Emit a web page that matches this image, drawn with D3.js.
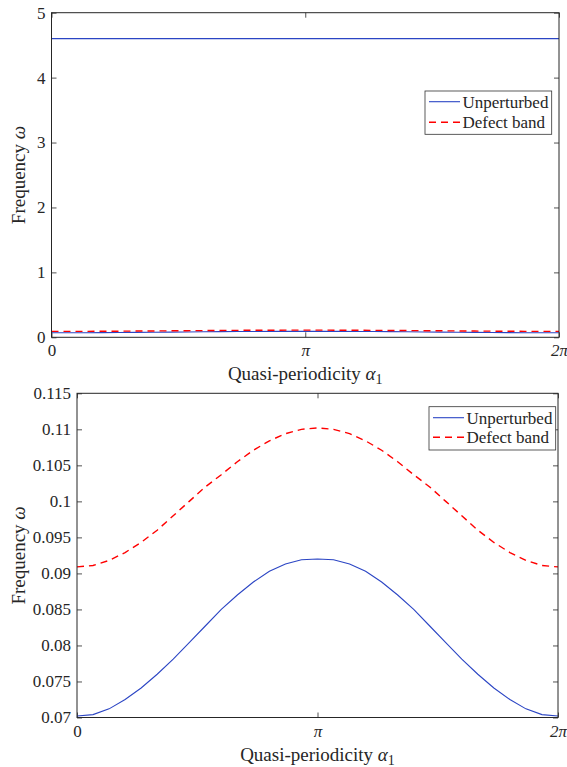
<!DOCTYPE html>
<html>
<head>
<meta charset="utf-8">
<script src="https://cdn.jsdelivr.net/npm/d3@7"></script>
<style>
  body { margin: 0; background: #fff; }
  svg { display: block; }
</style>
</head>
<body>
<svg id="chart" width="567" height="767"></svg>
<script>
// sampled quasi-periodicity (31 samples over one period)
var nSamples = 31;
var alpha = d3.range(nSamples).map(k => k * 2 * Math.PI / (nSamples - 1));

// lower unperturbed band
var unperturbedLow = [0.0702, 0.0704, 0.0712, 0.0725, 0.0741, 0.0760, 0.0781, 0.0804, 0.0827, 0.0850,
  0.0870, 0.0888, 0.0903, 0.0913, 0.0919, 0.0920, 0.0919, 0.0913, 0.0903, 0.0888,
  0.0870, 0.0850, 0.0827, 0.0804, 0.0781, 0.0760, 0.0741, 0.0725, 0.0712, 0.0704, 0.0702];
// upper unperturbed band (flat)
var unperturbedHigh = [4.6, 4.6, 4.6, 4.6, 4.6, 4.6, 4.6, 4.6, 4.6, 4.6,
  4.6, 4.6, 4.6, 4.6, 4.6, 4.6, 4.6, 4.6, 4.6, 4.6,
  4.6, 4.6, 4.6, 4.6, 4.6, 4.6, 4.6, 4.6, 4.6, 4.6, 4.6];
// defect band
var defectBand = [0.0909, 0.0911, 0.0918, 0.0929, 0.0943, 0.0960, 0.0980, 0.1000, 0.1020, 0.1037,
  0.1055, 0.1071, 0.1084, 0.1094, 0.1100, 0.1102, 0.1100, 0.1094, 0.1084, 0.1071,
  0.1055, 0.1037, 0.1020, 0.1000, 0.0980, 0.0960, 0.0943, 0.0929, 0.0918, 0.0911, 0.0909];

var xTicks = [0, Math.PI, 2 * Math.PI];
var xTickLabels = ['0', 'π', '2π'];
var yTicksTop = [0, 1, 2, 3, 4, 5];
var yTicksBottom = [0.07, 0.075, 0.08, 0.085, 0.09, 0.095, 0.1, 0.105, 0.11, 0.115];
var legendLabels = ['Unperturbed', 'Defect band'];

var blue = '#2b45c4', red = '#ff0000', axisColor = '#262626';
var dash = '7,5';
var serif = "'Liberation Serif', 'DejaVu Serif', serif";
var svg = d3.select('#chart');

// set font on every text, axis groups would otherwise force sans-serif
var txt = (sel, size) => sel.attr('font-family', serif).style('font-family', serif)
  .style('font-size', size + 'px').attr('fill', axisColor);

/**
 * draws one boxed panel with both bands
 */
var panel = function (cfg) {
  var x = d3.scaleLinear().domain([0, 2 * Math.PI]).range([cfg.left, cfg.right]);
  var y = d3.scaleLinear().domain(cfg.yDomain).range([cfg.bottom, cfg.top]);
  var g = svg.append('g');

  var fmtX = (d, i) => xTickLabels[i];

  var styleAxis = sel => {
    sel.attr('font-family', serif);
    sel.select('.domain').remove();
    sel.selectAll('line').attr('stroke', axisColor).attr('stroke-width', 0.8);
    sel.selectAll('text').call(txt, 17);
  };

  g.append('g').attr('transform', 'translate(0,' + cfg.bottom + ')')
    .call(d3.axisBottom(x).tickValues(xTicks).tickFormat(fmtX).tickSize(-5).tickPadding(7))
    .call(styleAxis)
    .selectAll('text').style('font-style', (d, i) => i > 0 ? 'italic' : null);
  g.append('g').attr('transform', 'translate(0,' + cfg.top + ')')
    .call(d3.axisTop(x).tickValues(xTicks).tickFormat('').tickSize(-5))
    .call(styleAxis);
  g.append('g').attr('transform', 'translate(' + cfg.left + ',0)')
    .call(d3.axisLeft(y).tickValues(cfg.yTicks).tickFormat(d3.format('')).tickSize(-5).tickPadding(6))
    .call(styleAxis);
  g.append('g').attr('transform', 'translate(' + cfg.right + ',0)')
    .call(d3.axisRight(y).tickValues(cfg.yTicks).tickFormat('').tickSize(-5))
    .call(styleAxis);

  var line = d3.line().x((d, i) => x(alpha[i])).y(d => y(d));

  cfg.blueSeries.forEach(s => {
    g.append('path').datum(s).attr('d', line)
      .attr('fill', 'none').attr('stroke', blue).attr('stroke-width', 1.1);
  });
  g.append('path').datum(defectBand).attr('d', line)
    .attr('fill', 'none').attr('stroke', red).attr('stroke-width', 1.4)
    .attr('stroke-dasharray', dash);

  // box
  g.append('rect')
    .attr('x', cfg.left).attr('y', cfg.top)
    .attr('width', cfg.right - cfg.left).attr('height', cfg.bottom - cfg.top)
    .attr('fill', 'none').attr('stroke', axisColor).attr('stroke-width', 1);

  // axis labels
  var xl = g.append('text')
    .attr('x', (cfg.left + cfg.right) / 2).attr('y', cfg.bottom + 43)
    .attr('text-anchor', 'middle').call(txt, 19);
  xl.append('tspan').text('Quasi-periodicity ');
  xl.append('tspan').text('α').style('font-style', 'italic');
  xl.append('tspan').text('1').attr('dy', 4).style('font-size', '14px');

  var yl = g.append('text')
    .attr('transform', 'translate(' + cfg.yLabelX + ',' + (cfg.top + cfg.bottom) / 2 + ') rotate(-90)')
    .attr('text-anchor', 'middle').call(txt, 19);
  yl.append('tspan').text('Frequency ');
  yl.append('tspan').text('ω').style('font-style', 'italic');

  // legend
  var lg = g.append('g').attr('transform', 'translate(' + cfg.legend[0] + ',' + cfg.legend[1] + ')');
  lg.append('rect').attr('width', cfg.legend[2]).attr('height', cfg.legend[3])
    .attr('fill', '#fff').attr('stroke', '#333').attr('stroke-width', 0.8);
  legendLabels.forEach((lab, i) => {
    var ly = cfg.legendRows[i];
    lg.append('line').attr('x1', 4).attr('x2', 35).attr('y1', ly).attr('y2', ly)
      .attr('stroke', i === 0 ? blue : red).attr('stroke-width', i === 0 ? 1.1 : 1.4)
      .attr('stroke-dasharray', i === 0 ? null : dash);
    lg.append('text').attr('x', 37.5).attr('y', ly).attr('dy', '0.35em')
      .call(txt, 17).text(lab);
  });
};

panel({
  left: 51.5, right: 559, top: 12.7, bottom: 337.3,
  yDomain: [0, 5], yTicks: yTicksTop, yLabelX: 25,
  blueSeries: [unperturbedHigh, unperturbedLow],
  legend: [425, 91, 126.7, 43.3], legendRows: [10.7, 31.3]
});
panel({
  left: 77, right: 558, top: 393.3, bottom: 717.5,
  yDomain: [0.07, 0.115], yTicks: yTicksBottom, yLabelX: 25,
  blueSeries: [unperturbedLow],
  legend: [429, 406.7, 126.7, 43.3], legendRows: [11, 30.6]
});
</script>
</body>
</html>
